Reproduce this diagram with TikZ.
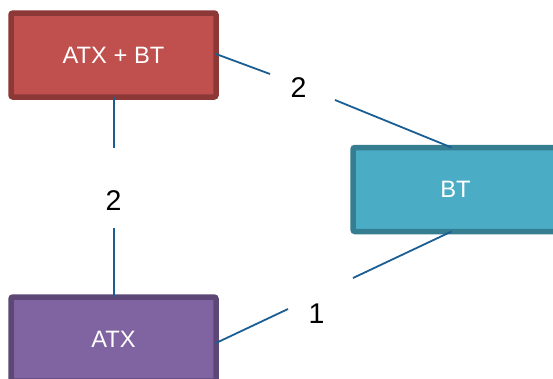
\documentclass[tikz,border=0pt]{standalone}
\usepackage{fontspec}
\setmainfont{Liberation Sans}
\definecolor{redfill}{HTML}{C0504D}
\definecolor{redline}{HTML}{8C3836}
\definecolor{tealfill}{HTML}{4BACC6}
\definecolor{tealline}{HTML}{357D91}
\definecolor{purpfill}{HTML}{8064A2}
\definecolor{purpline}{HTML}{5C4776}
\definecolor{conn}{HTML}{1B5E93}
\tikzset{
  box/.style={draw, line width=5.5pt, rounded corners=2pt, minimum width=205pt, minimum height=84pt, outer sep=0pt, inner sep=0pt, text=white, font=\fontsize{23.7}{28}\selectfont},
  redbox/.style={box, fill=redfill, draw=redline},
  tealbox/.style={box, fill=tealfill, draw=tealline},
  purpbox/.style={box, fill=purpfill, draw=purpline},
  conline/.style={draw=conn, line width=1.8pt},
  lbl/.style={inner sep=0pt, text=black, font=\fontsize{28.5}{32}\selectfont}
}
\begin{document}
\begin{tikzpicture}[x=1pt,y=-1pt]
\clip (0,0) rectangle (553,378);
\fill[white] (0,0) rectangle (553,378);
\node[redbox] (red) at (113.5,55) {ATX + BT};
\node[tealbox] (teal) at (455.5,189.5) {BT};
\node[purpbox] (purp) at (113.5,339) {ATX};
\node[lbl] (l1) at (298.5,87.5) {2};
\node[lbl] (l2) at (113.5,200.5) {2};
\node[lbl] (l3) at (316.5,314) {1};
\coordinate (a1) at (270,74);
\coordinate (a2) at (335,100);
\coordinate (b1) at (114,148);
\coordinate (b2) at (114,228);
\coordinate (c1) at (353,278);
\coordinate (c2) at (288,309);
\draw[conline] ([xshift=0.5pt]red.south) -- (b1);
\draw[conline] (b2) -- ([xshift=0.5pt]purp.north);
\draw[conline] ([yshift=1pt]red.east) -- (a1);
\draw[conline] (a2) -- ([xshift=-4pt]teal.north);
\draw[conline] ([xshift=-4pt]teal.south) -- (c1);
\draw[conline] (c2) -- ([yshift=-4pt]purp.east);
\end{tikzpicture}
\end{document}
